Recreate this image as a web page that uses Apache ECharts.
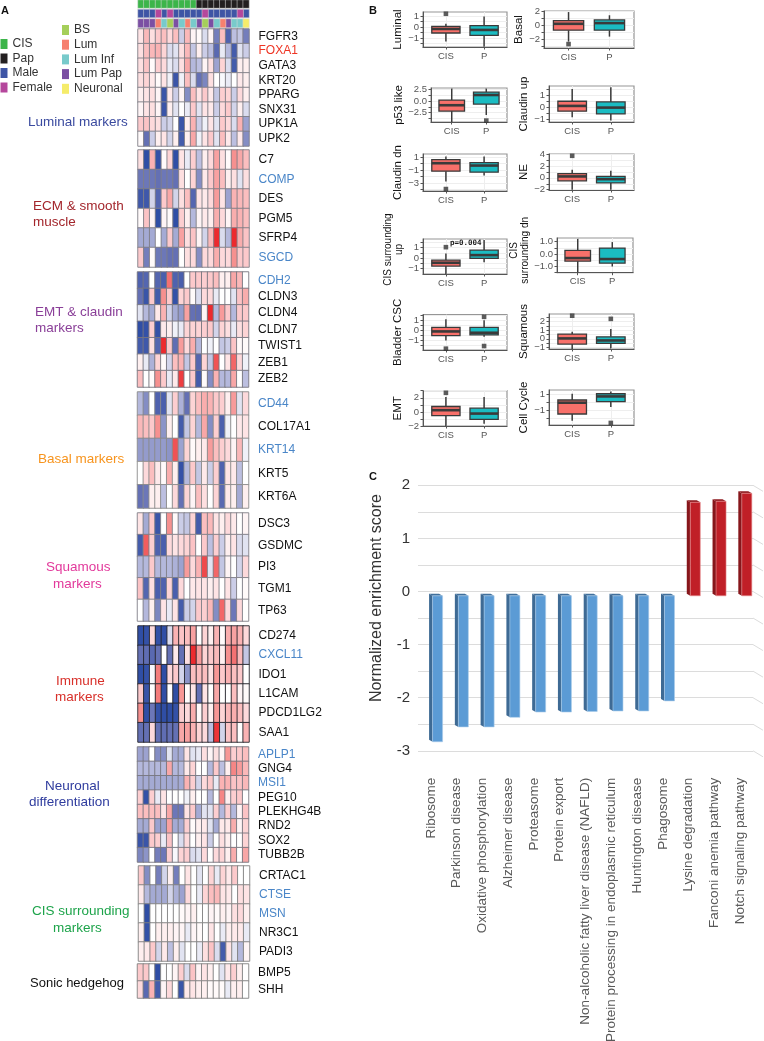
<!DOCTYPE html>
<html><head><meta charset="utf-8">
<style>html,body{margin:0;padding:0;background:#fff}#c{width:764px;height:1041px}</style>
<script src="https://cdn.jsdelivr.net/npm/echarts@6/dist/echarts.min.js"></script>
</head><body><div id="c"></div>
<script>
// ---------- DATA: panel A ----------
const sampleType = ['CIS','CIS','CIS','CIS','CIS','CIS','CIS','CIS','CIS','CIS','Pap','Pap','Pap','Pap','Pap','Pap','Pap','Pap','Pap'];
const sampleSex = ['Male','Male','Male','Female','Male','Female','Male','Male','Male','Male','Male','Female','Male','Male','Male','Male','Male','Female','Male'];
const sampleSubtype = ['Lum Pap','Lum Pap','Lum Pap','Lum','Lum Inf','BS','Lum Pap','Lum Inf','Lum','Lum Inf','Lum Pap','BS','Lum Pap','Lum Inf','Lum','Lum Pap','Lum Inf','Lum Inf','Neuronal'];
const blueGenes = ['COMP','SGCD','CDH2','CD44','KRT14','CXCL11','APLP1','MSI1','CTSE','MSN'];
const redGenes = ['FOXA1'];
const luminalGenes = ['FGFR3','FOXA1','GATA3','KRT20','PPARG','SNX31','UPK1A','UPK2'];
const luminalValues = [
[0.5,1.3,0.6,1.0,1.2,0.7,1.2,-0.7,1.3,0.2,0.1,-0.5,0.2,-1.8,1.2,-2.4,-0.9,-0.8,-1.8],
[0.6,1.2,1.3,1.4,0.8,-0.5,-0.4,0.6,1.3,-0.8,0.3,-0.7,-0.9,-2.2,-0.3,-1,-2.6,-0.4,-0.7],
[0.6,1.1,0.1,0.9,0.7,-0.3,-0.5,0.6,1.6,-1,-0.9,0.2,0.6,-1.3,0.8,-0.5,-2.6,0.3,0.3],
[0.6,0.8,0.4,0.1,0.5,-0.2,-2.8,-0.2,1.2,-0.5,-2.0,-1.7,0.6,0,-0.1,-0.3,0,0.4,0.3],
[0.3,0.5,0.6,0.2,-2.8,0.4,-0.7,0.2,-1.6,1.2,0.5,1,0.4,-0.8,0.9,0.8,-0.7,0.7,0.3],
[0.2,0.5,0.6,0.2,-2.8,0.3,-0.4,0,-0.3,1,-0.4,0.5,0.4,-0.7,0.7,1,-0.6,0.3,-0.5],
[1,1.1,0.7,0.6,-0.7,-0.6,0,-2.8,0.3,1.4,-0.7,-0.2,0.5,-0.4,1,0.7,-0.5,1.4,-1.3],
[0.1,-2,-0.7,0.3,0.5,-0.6,0.3,-2.6,0.3,1.6,-0.2,0.5,1,-0.4,1.2,0.4,-0.9,0.4,-1.6]];
const ecmGenes = ['C7','COMP','DES','PGM5','SFRP4','SGCD'];
const ecmValues = [
[0.6,-3,1.4,-2.9,0.1,0.8,-3,0.5,-0.3,0.9,-0.9,0.3,0.7,1.7,0.6,0.1,2,1.6,1.2],
[-1.9,-1.9,-1.9,-2,-1.9,-1.9,-2,0.6,0,0.8,-1.6,0.4,1,1.7,1.2,0.3,0.6,-0.4,0.6],
[-2.7,-2.7,-0.6,-2.3,1,1.6,-0.6,0.6,1.2,-2.3,0.5,0.4,0.7,1.8,0.5,-1.3,1.4,1.3,1.2],
[0.1,1.1,0.2,-3,0.2,0.1,-3,0.9,0.3,-1,0.2,0.4,0.3,1.5,0.7,0.2,1.5,1.4,1.2],
[-1.2,-1.2,-1.2,0,-1.2,1,-1.2,1.7,0.6,1.1,0.2,-0.6,1.3,3,-0.5,-1,3,1.5,1.1],
[1,-1.8,0.1,-1.9,-1.9,-2,-2,0,0.6,0.7,-1.6,0.7,0.7,1.5,0.7,0.7,2,1,1]];
const emtGenes = ['CDH2','CLDN3','CLDN4','CLDN7','TWIST1','ZEB1','ZEB2'];
const emtValues = [
[-2.4,-2.3,0,-2.3,-2.5,2.3,-2.4,-2.5,0,1,1,0.9,1,1.2,0.3,0.3,1.6,1.3,0],
[-2,-2.8,1,-2.6,2,1,-2.9,0.8,1,0.1,-0.5,0.7,0.7,-0.3,0,0,-0.4,1.1,1.5],
[-0.4,-1,-1.2,0.4,1.4,-0.6,-1.2,-1.4,1.7,-2,-2.1,0.2,3,-1,1.8,1,-1,1,1],
[-3,-2.9,0.9,-2.9,0.4,0.3,-0.2,-0.3,0.8,0.8,0.8,0.9,1,-0.6,0.8,0.6,-0.3,0.6,0.8],
[-2.6,-2.7,0.6,-2.3,3,1,-2.1,1.8,0.7,1.5,-1,0,-0.2,0,-0.8,-0.7,1.1,0.1,0.1],
[0.3,-0.3,-1.1,0.8,0.1,-0.6,1.2,1.4,-0.8,1,-2.3,0.8,-0.8,2.6,0,0.5,2.4,0.7,-0.2],
[1.2,0,0.1,2,1,-0.3,0.4,2.8,0,1,-2.6,0.1,-1.6,1.4,-1,-1,1.6,0,-0.9]];
const basalGenes = ['CD44','COL17A1','KRT14','KRT5','KRT6A'];
const basalValues = [
[-1,-1.6,0,-2.4,-2.5,-0.4,0.9,-1.1,-2,0.8,1.2,1.5,1.4,1,0.9,0.3,1.8,-0.4,0.7],
[1.3,1.2,1,2,-1.5,0.3,0,-2.6,-0.8,0.8,-1,1.6,-1.6,0.9,-2.5,-0.2,0,0.4,0.5],
[-1.4,-1.4,-1.4,-1.4,-1.4,-1.5,2.6,-1.3,0.8,0.1,0.3,0.4,1.8,1.2,0.9,0.7,0.2,1.3,-0.2],
[0,0.7,1.2,0.4,0.1,1.5,0.3,-2.9,-1,1,-0.8,0.4,-0.7,0.9,-2.4,0.5,0.4,-0.9,0],
[-2,-1.9,0.3,0.3,-0.9,0,0.7,-2,0.8,0.2,1.2,0.6,0,0.8,-2.2,0.4,0.3,-1.2,0.3]];
const squamousGenes = ['DSC3','GSDMC','PI3','TGM1','TP63'];
const squamousValues = [
[0.5,-1.2,1,-2.8,0,2,0.1,-0.7,-0.8,0.8,-2.6,1.2,1.3,0.5,0.3,0.7,0.4,0,0.2],
[-2.6,2.5,0.9,-2.4,-2.5,0.7,0.5,0.7,0.8,1.1,0,1,-0.9,0.9,-0.7,0.3,0.5,-0.5,-0.4],
[-1,-1,1,-1,-1,-1,-1.1,-1.3,1.8,0.7,1.4,2.7,-0.4,2.4,-0.8,0.2,0,-0.6,0.7],
[1.1,-2.3,0.6,-2.5,-2.4,0.8,-2.5,0.7,0,0.4,0.5,0.5,0.3,0.5,0,0.5,-0.7,0,0.1],
[0,-1,0.3,-1.7,0.5,-0.3,0.5,-2.6,-0.7,-0.6,1,0.9,1.3,-1.6,2.4,0.7,-1.9,0.7,0]];
const immuneGenes = ['CD274','CXCL11','IDO1','L1CAM','PDCD1LG2','SAA1'];
const immuneValues = [
[-3,-2.9,0.7,-2.9,-3,-0.5,1.4,1.1,1.2,1.7,0,0.8,0.3,1.4,0.1,1.5,1.7,1.4,0.7],
[-2,-2.1,-2.2,-2,0,-2,0.4,-2,0.6,3,1.8,0.8,1,1.3,0.3,2,2.3,1.3,-0.8],
[-3,-2.9,-0.1,2.2,-3,0.7,1,-0.6,-1.5,1.2,1.2,1.2,0.6,1.9,1,1.4,1.2,1,0],
[1,-2.8,0,2.2,-3,0,-3,1.9,0.1,0.5,-2,0.5,0,1.6,0,0,1.2,0.2,0.1],
[2,-3,-1.9,-2.9,-3,-3,-2.9,0.9,0.7,1.5,0.1,0.9,0.3,1.9,0.8,1.3,1.5,1.2,0.7],
[-2,-2,0.7,-2,-2.1,-2,-2,1.6,1.7,1.4,0.8,0.7,-0.9,2.9,-0.6,1.1,1.2,0,1.4]];
const neuronalGenes = ['APLP1','GNG4','MSI1','PEG10','PLEKHG4B','RND2','SOX2','TUBB2B'];
const neuronalValues = [
[-1.3,-1.3,0,-1.6,-1.6,-0.4,-1.2,-1.2,0.5,-0.4,-0.3,0.6,0.2,0.6,0.2,1.9,0.9,1,1.2],
[-1,-1,-1,-1,-1,1.6,-1,-1,0.4,0.8,0,0,-1,1,-0.9,0.3,2.1,1.8,1.3],
[-1.2,-1.2,-1.2,-1.2,-1.2,-1.2,-1.2,-1.2,1.4,0.9,-0.6,0.7,1,-0.3,1.4,1.4,1.1,1.1,1.3],
[0.9,-2.9,0.9,-0.3,0.5,0,0,0,-0.2,0.3,0,0,-1,0,2.1,0.3,0.9,1,0],
[1.2,1.2,1.2,1.2,0.5,1.6,-1.9,-1.9,0.5,1,-1.2,-0.4,-0.4,0.9,-1,0.9,-1,0.2,1.1],
[-1.2,-1.2,1,-1.3,-1.3,1.7,-1.2,-1.2,0.9,0.1,0.3,0.4,-0.4,-1.2,0.4,0.4,1.5,0.2,0.8],
[-2.8,-2.8,1,0.9,-0.3,1.1,0,-0.5,0.7,0,0.3,0.5,-0.7,0,0.6,0.3,0,0,0.8],
[-1.7,-1.5,0,-1.8,-1.9,0.9,-0.1,0.8,0.9,-0.5,-0.4,0.7,0,0.7,0.8,0.3,1.5,0,1.6]];
const cisGenes = ['CRTAC1','CTSE','MSN','NR3C1','PADI3'];
const cisValues = [
[1,-1.6,0,-1.8,-0.6,0.3,-1.8,0,0.5,0,-0.4,0,0.8,-0.3,0.8,0.4,1,0,0],
[0.4,-1,-1.2,-1.2,-1.2,-0.6,-1.1,-1.3,0.7,0,-0.3,0.8,1.2,1.3,0.5,0.4,0,0.6,0.5],
[0,-3,0,0,0,0,0,0.1,0.2,0.3,0,0,0.2,0.1,0.3,0.2,0.6,0.7,0.3],
[0.3,-2.9,0,0.3,0.3,0.3,0.2,0.2,-0.3,0.2,0.1,0,0.5,0,-0.3,0.3,0.4,0.4,-0.3],
[0.3,0.4,1,-0.6,0.4,-0.9,0.3,-0.4,0,0,-0.3,0.6,1.1,-0.5,-2.6,0.5,-0.4,-1,0.2]];
const shhGenes = ['BMP5','SHH'];
const shhValues = [
[1,1,0,-3,0,0,0.2,0.9,-0.5,1.1,0.2,0.5,0.3,0,-0.4,0.4,0.9,0.3,0],
[0.7,-2.2,1.4,-2.6,0.2,0.7,0,-2.8,0.4,0.5,0.3,0.3,0.1,0.1,0.1,-0.3,0.3,0.3,0]];

// ---------- DATA: panel B (low, q1, median, q3, high for CIS then P) ----------
const boxGroups = ['CIS','P'];
const boxLuminal = [[-1.33,-0.55,-0.18,0.06,0.3],[-1.8,-0.76,-0.27,0.12,0.94]];
const outLuminal = [[0,1.2]];
const boxBasal = [[-2.3,-0.7,0.2,0.65,1.85],[-1.6,-0.7,0.3,0.74,1.4]];
const outBasal = [[0,-2.65]];
const boxP53 = [[-4.5,-2.15,-0.9,0.2,2.7],[-3,-0.65,1.3,1.9,2.7]];
const outP53 = [[1,-4.2]];
const boxClaudinUp = [[-0.8,-0.3,0.14,0.53,1.55],[-1.08,-0.53,0,0.47,1.7]];
const outClaudinUp = [];
const boxClaudinDn = [[-2.75,-1.15,0.08,0.64,1.1],[-1.8,-1.3,-0.28,0.18,1.1]];
const outClaudinDn = [[0,-3.9]];
const boxNE = [[-2,-0.5,0.23,0.7,1.35],[-2,-0.86,-0.23,0.23,1.2]];
const outNE = [[0,3.7]];
const boxCisUp = [[-1.5,-0.75,-0.44,-0.2,0.44],[-0.4,-0.03,0.28,0.75,1.7]];
const outCisUp = [[0,1.03]];
const boxCisDn = [[-1.46,-0.57,-0.32,0.3,1.24],[-1,-0.73,-0.4,0.49,0.97]];
const outCisDn = [];
const boxBladder = [[-1,-0.52,-0.1,0.3,1.1],[-0.62,-0.43,-0.23,0.3,1]];
const outBladder = [[0,-1.8],[1,1.34],[1,-1.54]];
const boxSquamous = [[-1.2,-0.62,0.04,0.55,0.82],[-1.13,-0.55,-0.2,0.23,1.13]];
const outSquamous = [[0,2.7],[1,2.33]];
const boxEMT = [[-2,-0.52,0.24,0.76,2.1],[-1.67,-1.05,-0.24,0.52,2.1]];
const outEMT = [[0,2.7]];
const boxCycle = [[-2.27,-1.45,-0.06,0.27,1.04],[-0.6,0.06,0.71,1.04,1.33]];
const outCycle = [[1,-2.55]];

// ---------- DATA: panel C ----------
const pathways = ['Ribosome','Parkinson disease','Oxidative phosphorylation','Alzheimer disease','Proteasome','Protein export','Non-alcoholic fatty liver disease (NAFLD)','Protein processing in endoplasmic reticulum','Huntington disease','Phagosome','Lysine degradation','Fanconi anemia pathway','Notch signaling pathway'];
const enrichment = [-2.83,-2.55,-2.55,-2.37,-2.27,-2.27,-2.26,-2.25,-2.25,-2.06,1.68,1.70,1.85];
const gridSteps = [-3,-2.5,-2,-1.5,-1,-0.5,0,0.5,1,1.5,2];

// ---------- BUILD ----------
const FONT = '"Liberation Sans", Arial, sans-serif';
const catColors = {CIS:'#3cb54a',Pap:'#231f20',Male:'#3e55a5',Female:'#b5479c',BS:'#a5cf5a',Lum:'#f6806f','Lum Inf':'#78cacb','Lum Pap':'#7b4fa3',Neuronal:'#f5ec6a'};
const catNames = Object.keys(catColors);
const grid=[],xAxis=[],yAxis=[],series=[],title=[];
const heatSeries=[],catSeries=[];
function addAxes(g,x,y){grid.push(Object.assign({outerBoundsMode:'none'},g));const i=grid.length-1;xAxis.push(Object.assign({gridIndex:i},x));yAxis.push(Object.assign({gridIndex:i},y));return i;}
const colIdx = sampleType.map((_,i)=>String(i));

// annotation strips
[[sampleType,0,8],[sampleSex,9.5,8],[sampleSubtype,19,8.5]].forEach(([arr,top,h])=>{
  const i=addAxes({left:138,width:111,top:top,height:h},
    {type:'category',data:colIdx,show:false},{type:'category',data:['a'],show:false});
  [...new Set(arr)].forEach(name=>{
    catSeries.push(series.length);
    series.push({type:'heatmap',name,xAxisIndex:i,yAxisIndex:i,itemStyle:{color:catColors[name],borderColor:'#d8d8d8',borderWidth:0.5},
      data:arr.map((c,k)=>c===name?[k,0,catNames.indexOf(name)]:null).filter(Boolean)});
  });
});

// heat blocks
function heat(genes,vals,top,bottom,border,left){
  const i=addAxes({left:left,width:111,top:top,height:bottom-top},
    {type:'category',data:colIdx,show:false},
    {type:'category',data:genes,inverse:true,position:'right',axisLine:{show:false},axisTick:{show:false},splitLine:{show:false},
     axisLabel:{interval:0,fontFamily:FONT,fontSize:12,margin:9.5,color:v=>blueGenes.includes(v)?'#4a86c8':redGenes.includes(v)?'#ee3524':'#111'}});
  const data=[];vals.forEach((r,y)=>r.forEach((v,x)=>data.push([x,y,v])));
  heatSeries.push(series.length);
  series.push({type:'heatmap',xAxisIndex:i,yAxisIndex:i,data,itemStyle:{borderColor:border,borderWidth:0.9}});
}
heat(luminalGenes,luminalValues,29,146,'#807f87',138);
heat(ecmGenes,ecmValues,150,267,'#807f87',138);
heat(emtGenes,emtValues,272,387,'#77767f',137.5);
heat(basalGenes,basalValues,392,508,'#8a8a8a',137.5);
heat(squamousGenes,squamousValues,513,621,'#807f87',137.5);
heat(immuneGenes,immuneValues,626,742,'#26262c',138);
heat(neuronalGenes,neuronalValues,747,862,'#77767f',137.5);
heat(cisGenes,cisValues,866,961,'#808080',138.5);
heat(shhGenes,shhValues,964,998,'#808080',137.5);

// box panels
const boxFill=['#f8706a','#1bbcc2'];
function box(name,vals,outs,l,t,r,b,ymin,ymax,major,minor,dec,gap,nameSize,namePad,padEnds){
  const fmt=v=>{if(!major.includes(v))return '';const s=Math.abs(v).toFixed(dec);return v<0?'\u2212'+s:s;};
  const i=addAxes({left:l,top:t,width:r-l,height:b-t,show:true,borderColor:'#969696',borderWidth:1.2,backgroundColor:'#fff'},
    {type:'value',min:-0.6,max:1.6,axisLine:{lineStyle:{color:'#555',width:1},onZero:false},
     axisTick:{customValues:[0,1],length:2.5,lineStyle:{color:'#555'}},
     axisLabel:{customValues:[0,1],formatter:v=>boxGroups[v],fontFamily:FONT,fontSize:9.5,color:'#555',margin:4},
     splitLine:{show:true,lineStyle:{color:'#eee'}}},
    {type:'value',min:ymin,max:ymax,name,nameLocation:'middle',nameRotate:90,nameGap:gap,
     nameTextStyle:{fontFamily:FONT,fontSize:nameSize||11.5,color:'#111',lineHeight:11,padding:namePad||0},
     axisLine:{lineStyle:{color:'#555',width:1},onZero:false},
     axisTick:{customValues:minor,length:2.5,lineStyle:{color:'#555'}},
     axisLabel:{customValues:padEnds?[ymin].concat(major,[ymax]):major,hideOverlap:false,showMinLabel:!padEnds,showMaxLabel:!padEnds,
       formatter:fmt,fontFamily:FONT,fontSize:9.5,color:'#555',margin:4},
     splitLine:{show:true,lineStyle:{color:'#eeeeee'}}});
  const bw=(r-l)/2.2*0.74;
  series.push({type:'custom',xAxisIndex:i,yAxisIndex:i,silent:true,
    encode:{x:0,y:[1,2,3,4,5]},
    data:vals.map((v,k)=>[k].concat(v)),
    renderItem(p,api){
      const k=api.value(0),y=j=>api.coord([k,api.value(j)]);
      const lo=y(1),q1=y(2),md=y(3),q3=y(4),hi=y(5),x=lo[0],st={stroke:'#3a3a3a',lineWidth:1.5};
      return {type:'group',children:[
        {type:'line',shape:{x1:x,y1:lo[1],x2:x,y2:q1[1]},style:st},
        {type:'line',shape:{x1:x,y1:q3[1],x2:x,y2:hi[1]},style:st},
        {type:'rect',shape:{x:x-bw/2,y:q3[1],width:bw,height:q1[1]-q3[1]},style:{fill:boxFill[k],stroke:'#3a3a3a',lineWidth:1.3}},
        {type:'line',shape:{x1:x-bw/2,y1:md[1],x2:x+bw/2,y2:md[1]},style:{stroke:'#3a3a3a',lineWidth:2.6}}
      ]};
    }});
  if(outs.length)series.push({type:'scatter',xAxisIndex:i,yAxisIndex:i,symbol:'rect',symbolSize:4.6,itemStyle:{color:'#333'},data:outs});
}
box('Luminal',boxLuminal,outLuminal,423,12,507,47,-1.82,1.36,[-1,0,1],[-1.5,-1,-0.5,0,0.5,1],0,16);
box('Basal',boxBasal,outBasal,544,11,634,48,-3.2,2,[-2,0,2],[-3,-2,-1,0,1,2],0,9);
box('p53 like',boxP53,outP53,431,88,507,122,-4.5,2.8,[-2.5,0,2.5],[-3.75,-2.5,-1.25,0,1.25,2.5],1,26);
box('Claudin up',boxClaudinUp,outClaudinUp,549,86,634,122,-1.2,1.8,[-1,0,1],[-1,-0.5,0,0.5,1,1.5],0,17);
box('Claudin dn',boxClaudinDn,outClaudinDn,423,154,507,191,-4.2,1.5,[-3,-1,1],[-4,-3,-2,-1,0,1],0,16);
box('NE',boxNE,outNE,549,154,634,190,-2.05,4,[-2,0,2,4],[-2,-1,0,1,2,3,4],0,17);
box('CIS surrounding\nup',boxCisUp,outCisUp,423,239,507,274,-1.5,1.8,[-1,0,1],[-1,-0.5,0,0.5,1,1.5],0,7,10,[0,0,0,14]);
box('CIS\nsurrounding dn',boxCisDn,outCisDn,557,238,633,272.7,-1.5,1.3,[-1,0,1],[-1.5,-1,-0.5,0,0.5,1],1,21,10,[0,0,0,10]);
box('Bladder CSC',boxBladder,outBladder,423,314.7,507,350,-1.93,1.55,[-1,0,1],[-1.5,-1,-0.5,0,0.5,1,1.5],0,16);
box('Squamous',boxSquamous,outSquamous,549,314,634,349,-1.2,2.9,[-1,0,1,2],[-1,-0.5,0,0.5,1,1.5,2,2.5],0,17,null,null,true);
box('EMT',boxEMT,outEMT,423,390.7,507,426,-2,3,[-2,0,2],[-2,-1,0,1,2,3],0,16);
box('Cell Cycle',boxCycle,outCycle,549,390,634,425,-2.8,1.5,[-1,1],[-2,-1,0,1],0,17);

// panel C
const gi=addAxes({left:418,width:335,top:485.3,height:265.5},
  {type:'category',data:pathways,axisLine:{show:false},axisTick:{show:false},
   axisLabel:{rotate:90,interval:0,margin:27,fontFamily:FONT,fontSize:13.5,color:'#595959'}},
  {type:'value',min:-3,max:2,interval:0.5,name:'Normalized enrichment score',nameLocation:'middle',nameRotate:90,nameGap:33,
   nameTextStyle:{fontFamily:FONT,fontSize:16,color:'#333',padding:[0,0,0,40]},axisLine:{show:false},axisTick:{show:false},
   axisLabel:{fontFamily:FONT,fontSize:15,color:'#333',margin:8,formatter:v=>Number.isInteger(v)?String(v):''},
   splitLine:{show:true,lineStyle:{color:'#dcdcdc',width:1}}});
series.push({type:'custom',xAxisIndex:gi,yAxisIndex:gi,silent:true,data:gridSteps.map(v=>[12,v]),
  renderItem(p,api){const c=api.coord([api.value(0),api.value(1)]);const x=c[0]+12.9;
    return {type:'line',shape:{x1:x,y1:c[1],x2:x+10,y2:c[1]+6},style:{stroke:'#dcdcdc',lineWidth:1}};}});
series.push({type:'custom',xAxisIndex:gi,yAxisIndex:gi,silent:true,encode:{x:0,y:1},
  data:enrichment.map((v,i)=>[i,v]),
  renderItem(p,api){
    const v=api.value(1),c=api.coord([api.value(0),v]),z=api.coord([api.value(0),0]);
    const neg=v<0,xl=c[0]+1.7,xr=xl+10,dx=3.5,dy=2;
    const base=z[1]+4.3;
    const top=neg?base:c[1],bot=neg?c[1]:base;
    const cols=neg?['#5b9bd5','#3e6a94','#41709c','#a9cbe9']:['#c01f27','#87161b','#8e191e','#e58f90'];
    return {type:'group',children:[
      {type:'polygon',shape:{points:[[xl,top],[xl-dx,top-dy],[xl-dx,bot-dy],[xl,bot]]},style:{fill:cols[1]}},
      {type:'polygon',shape:{points:[[xl,top],[xr,top],[xr-dx,top-dy],[xl-dx,top-dy]]},style:{fill:cols[2]}},
      {type:'rect',shape:{x:xl,y:top,width:10,height:bot-top},style:{fill:cols[0],stroke:cols[3],lineWidth:0.6}}
    ]};
  }});

// texts
function t(text,left,top,color,size,extra){title.push(Object.assign({text,left,top,padding:0,textStyle:Object.assign({fontFamily:FONT,fontSize:size,fontWeight:'normal',color,lineHeight:16.5},extra||{})}));}
t('A',1,3,'#111',11,{fontWeight:'bold'});
t('B',369,3,'#111',11,{fontWeight:'bold'});
t('C',369,469,'#111',11,{fontWeight:'bold'});
t('Luminal markers',28,114,'#3a4a9f',13.5);
t('ECM & smooth\nmuscle',33,198,'#a3262c',13.5);
t('EMT & claudin\nmarkers',35,304,'#8a3f98',13.5);
t('Basal markers',38,451,'#f7941e',13.5);
t('Squamous',46,559,'#e2399b',13.5);
t('markers',53,576,'#e2399b',13.5);
t('Immune',56,673,'#d8302a',13.5);
t('markers',55,689,'#d8302a',13.5);
t('Neuronal',45,778,'#2f3c9e',13.5);
t('differentiation',29,794,'#2f3c9e',13.5);
t('CIS surrounding',32,903,'#1ea44b',13.5);
t('markers',53,920,'#1ea44b',13.5);
t('Sonic hedgehog',30,975,'#111',13);
t('p=0.004',450,234.5,'#222',7.5,{fontFamily:'"DejaVu Sans Mono", monospace',fontWeight:'bold'});

const legendBase={orient:'vertical',icon:'rect',itemWidth:7,itemHeight:10,align:'left',padding:0,selectedMode:false,itemStyle:{borderWidth:0},
  textStyle:{fontFamily:FONT,fontSize:12,color:'#333'}};

const chart=echarts.init(document.getElementById('c'),null,{renderer:'canvas'});
chart.setOption({
  animation:false,backgroundColor:'#fff',title,grid,xAxis,yAxis,series,
  tooltip:{show:false},
  legend:[
    Object.assign({},legendBase,{left:0.5,top:38,itemGap:2.5,data:['CIS','Pap','Male','Female']}),
    Object.assign({},legendBase,{left:62,top:24,itemGap:2.7,data:['BS','Lum','Lum Inf','Lum Pap','Neuronal']})
  ],
  visualMap:[
    {show:false,type:'continuous',seriesIndex:heatSeries,min:-3,max:3,dimension:2,
     inRange:{color:['#2f4ea5','#6470b4','#b4b8dc','#ffffff','#fcc9cb','#f6908f','#ec2a2e']}},
    {show:false,type:'piecewise',seriesIndex:catSeries,dimension:2,
     pieces:catNames.map((n,i)=>({value:i,color:catColors[n]}))}
  ]
});
</script></body></html>
